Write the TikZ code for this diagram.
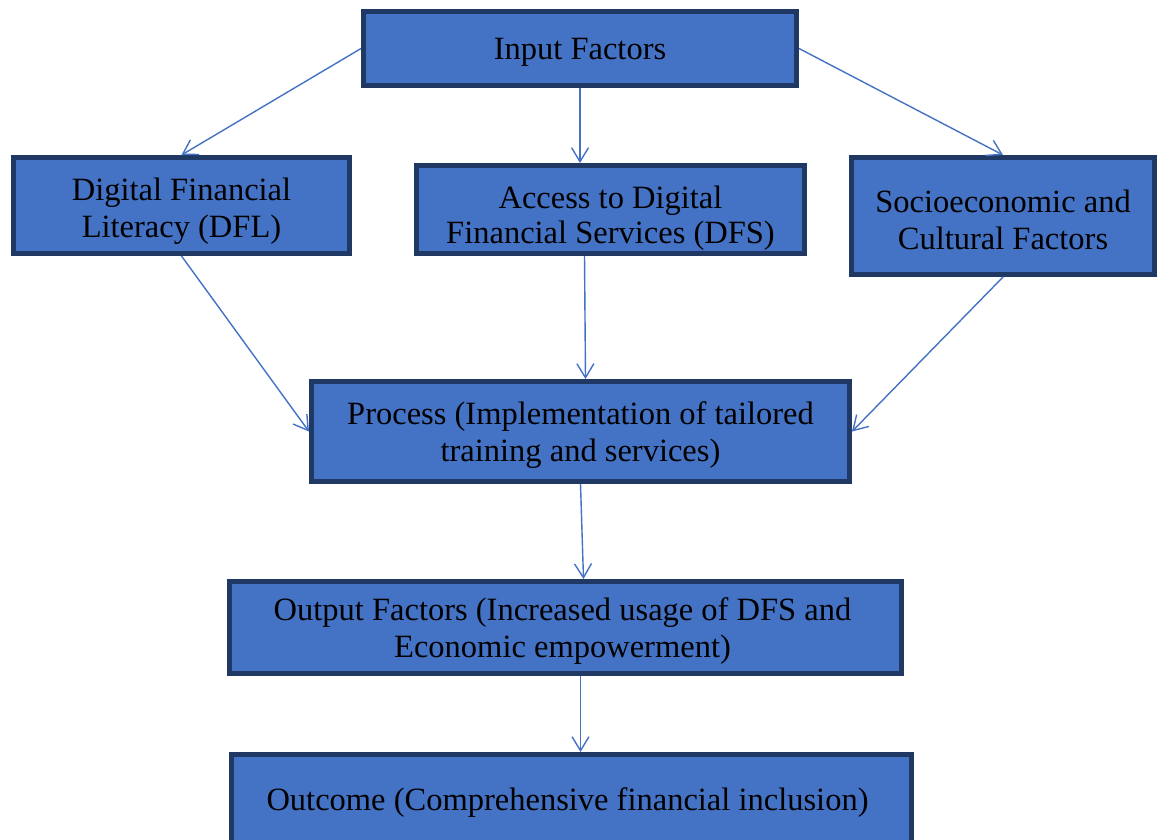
\documentclass[tikz,border=0pt]{standalone}
\usepackage{fontspec}
\setmainfont{Liberation Serif}
\usetikzlibrary{arrows.meta}
\definecolor{boxfill}{HTML}{4472C4}
\definecolor{boxline}{HTML}{1F3864}
\definecolor{arrowc}{HTML}{4472C4}
\begin{document}
\begin{tikzpicture}[x=1pt,y=-1pt,
  box/.style={draw=boxline, fill=boxfill, line width=5pt, inner sep=0pt},
  txt/.style={align=center, inner sep=0pt, font=\fontsize{32.5}{37}\selectfont, text=black, yshift=-4pt},
  conn/.style={draw=arrowc, line width=1.4pt, -{Straight Barb[length=14pt,width=17pt,line width=1.4pt]}}]
\useasboundingbox (0,0) rectangle (1158,839);
\fill[white] (0,0) rectangle (1158,839);
\node[box, minimum width=433pt, minimum height=74pt, label={[txt]center:Input Factors}] (inp) at (580,48.5) {};
\node[box, minimum width=336pt, minimum height=96pt, label={[txt,yshift=-2pt]center:Digital Financial\\Literacy (DFL)}] (dfl) at (181.5,205.5) {};
\node[box, minimum width=388pt, minimum height=88pt, label={[txt,yshift=-5pt]center:Access to Digital\\[-2pt]Financial Services (DFS)}] (acc) at (610.5,209.5) {};
\node[box, minimum width=303pt, minimum height=117pt, label={[txt]center:Socioeconomic and\\Cultural Factors}] (soc) at (1003,216) {};
\node[box, minimum width=538pt, minimum height=100pt, label={[txt]center:Process (Implementation of tailored\\training and services)}] (proc) at (580.5,431.5) {};
\node[box, minimum width=672pt, minimum height=92pt, label={[txt,xshift=-3pt]center:Output Factors (Increased usage of DFS and\\Economic empowerment)}] (out) at (565.5,627.5) {};
\node[box, minimum width=680pt, minimum height=93pt, label={[txt,xshift=-4pt,yshift=2pt]center:Outcome (Comprehensive financial inclusion)}] (outc) at (571.5,801) {};
\draw[conn] (inp.west) -- (dfl.north);
\draw[conn] (inp.south) -- (inp.south |- acc.north);
\draw[conn] (inp.east) -- (soc.north);
\draw[conn] (dfl.south) -- (proc.west);
\draw[conn] ([xshift=4pt]proc.north |- acc.south) -- ([xshift=5pt]proc.north);
\draw[conn] (soc.south) -- (proc.east);
\draw[conn] (proc.south) -- ([xshift=3pt]proc.south |- out.north);
\draw[conn] (proc.south |- out.south) -- (proc.south |- outc.north);
\end{tikzpicture}
\end{document}
